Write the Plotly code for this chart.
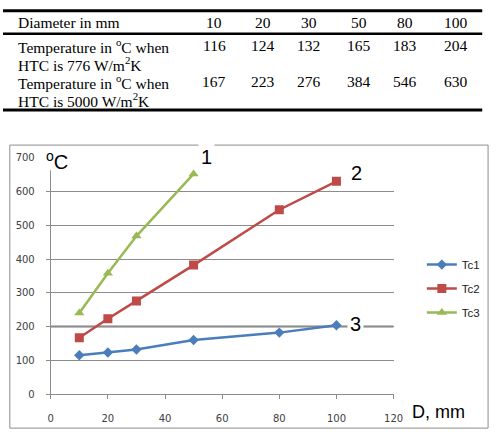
import plotly.graph_objects as go

W, H = 501, 438

# ---------------- data ----------------
diam = [10, 20, 30, 50, 80, 100]
table_header = "Diameter in mm"
row1_label = ["Temperature in <sup>o</sup>C when", "HTC is 776 W/m<sup>2</sup>K"]
row2_label = ["Temperature in <sup>o</sup>C when", "HTC is 5000 W/m<sup>2</sup>K"]
row1_vals = [116, 124, 132, 165, 183, 204]
row2_vals = [167, 223, 276, 384, 546, 630]

# chart series
tc1_x = [10, 20, 30, 50, 80, 100]
tc1_y = [115, 123, 132, 160, 182, 204]
tc2_x = [10, 20, 30, 50, 80, 100]
tc2_y = [167, 223, 276, 382, 546, 630]
tc3_x = [10, 20, 30, 50]
tc3_y = [240, 358, 468, 652]
series_names = ["Tc1", "Tc2", "Tc3"]
ref_level = [200]

def px(x):
    return x / W

def py(y):
    return 1 - y / H

fig = go.Figure()

colors = ["#4A7EBB", "#BE4B48", "#98B954"]
symbols = ["diamond", "square", "triangle-up"]
sizes = [8, 9, 9]
for i, (xs, ys) in enumerate([(tc1_x, tc1_y), (tc2_x, tc2_y), (tc3_x, tc3_y)]):
    fig.add_trace(go.Scatter(
        x=xs, y=ys, mode="lines+markers", name=series_names[i],
        legendgroup=series_names[i],
        line=dict(color=colors[i], width=2.5),
        marker=dict(symbol=symbols[i], size=sizes[i], color=colors[i]),
    ))

grid_col = "#8C8C8C"
tick_font = dict(family="DejaVu Sans", size=10, color="#404040")

fig.update_layout(
    width=W, height=H,
    margin=dict(l=0, r=0, t=0, b=0),
    paper_bgcolor="white", plot_bgcolor="white",
    showlegend=True,
    legend=dict(x=px(430), y=py(251), xanchor="left", yanchor="top",
                font=dict(family="Liberation Sans", size=11.5, color="#202020"),
                tracegroupgap=5, bgcolor="rgba(0,0,0,0)"),
    xaxis=dict(domain=[px(49), px(401)], range=[0, 120], dtick=20,
               showgrid=False, zeroline=False, showline=True, linecolor=grid_col,
               linewidth=1, ticks="outside", ticklen=4, tickcolor=grid_col,
               tickfont=tick_font, ticklabelstandoff=11),
    yaxis=dict(domain=[py(399), py(156)], range=[0, 700], dtick=100,
               showgrid=True, gridcolor=grid_col, gridwidth=1, zeroline=False,
               showline=True, linecolor=grid_col, linewidth=1,
               ticks="outside", ticklen=4, tickcolor=grid_col,
               tickfont=tick_font, ticklabelstandoff=9),
)

shapes = []
# emphasised reference line at 200
for lv in ref_level:
    shapes.append(dict(type="line", xref="x", yref="y", x0=0, x1=120, y0=lv, y1=lv,
                       line=dict(color="#7A7A7A", width=2), layer="below"))
# chart frame
shapes.append(dict(type="rect", xref="paper", yref="paper",
                   x0=px(7), x1=px(498), y0=py(434), y1=py(143),
                   line=dict(color="#8C8C8C", width=1)))
# gap in top gridline above label 2, and top of axis hidden by the unit label
shapes.append(dict(type="rect", xref="paper", yref="paper",
                   x0=px(351), x1=px(373), y0=py(159), y1=py(153),
                   fillcolor="white", line=dict(width=0)))
shapes.append(dict(type="rect", xref="paper", yref="paper",
                   x0=px(43), x1=px(71), y0=py(169), y1=py(147),
                   fillcolor="white", line=dict(width=0)))
# table rules
shapes.append(dict(type="line", xref="paper", yref="paper", x0=px(0), x1=px(492),
                   y0=py(5), y1=py(5), line=dict(color="black", width=3)))
shapes.append(dict(type="line", xref="paper", yref="paper", x0=px(0), x1=px(492),
                   y0=py(28.5), y1=py(28.5), line=dict(color="black", width=2.5)))
shapes.append(dict(type="line", xref="paper", yref="paper", x0=px(0), x1=px(492),
                   y0=py(107), y1=py(107), line=dict(color="black", width=3)))
fig.update_layout(shapes=shapes)

ann = []
serif = dict(family="Liberation Serif", size=15.5, color="black")

def text(x, y, s, font, xanchor="center", **kw):
    ann.append(dict(x=px(x), y=py(y), xref="paper", yref="paper", text=s,
                    showarrow=False, xanchor=xanchor, yanchor="middle", font=font, **kw))

# table
col_x = [217, 267, 314, 365, 413, 465]
text(14, 17, table_header, serif, xanchor="left", borderpad=0)
text(14, 41, row1_label[0], serif, xanchor="left", borderpad=0)
text(14, 60, row1_label[1], serif, xanchor="left", borderpad=0)
text(14, 78, row2_label[0], serif, xanchor="left", borderpad=0)
text(14, 97, row2_label[1], serif, xanchor="left", borderpad=0)
for cx, d, a, b in zip(col_x, diam, row1_vals, row2_vals):
    text(cx, 17, str(d), serif, borderpad=0)
    text(cx, 41, str(a), serif, borderpad=0)
    text(cx, 78, str(b), serif, borderpad=0)

# chart labels
big = dict(family="Liberation Sans", size=20, color="black")
text(55, 159, "<sup>o</sup>C", big)
text(209, 155, "1", big, bgcolor="white", borderpad=2)
text(363, 172, "2", big)
text(362, 327, "3", big, bgcolor="white", borderpad=2)
text(447, 417, "D, mm", dict(family="Liberation Sans", size=18, color="black"))

fig.update_layout(annotations=ann)

fig.write_html("out.html")
